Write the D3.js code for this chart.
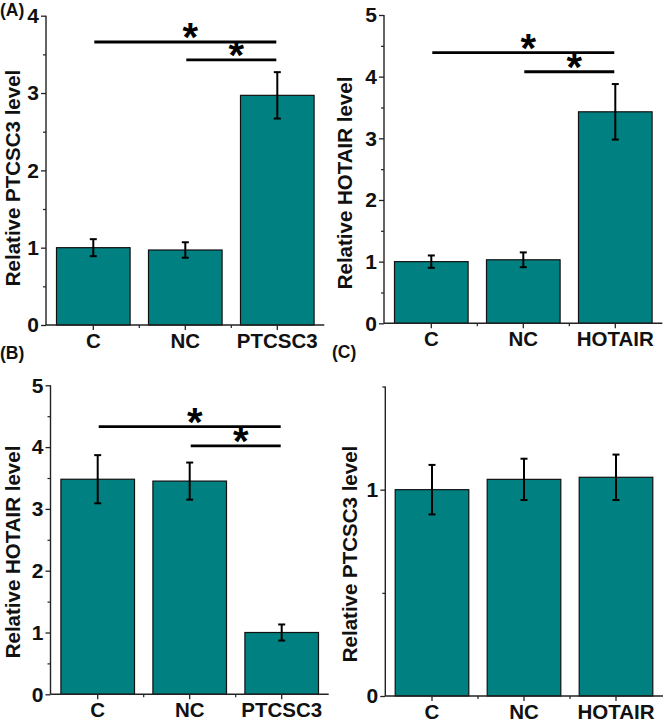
<!DOCTYPE html>
<html>
<head>
<meta charset="utf-8">
<script src="https://cdn.jsdelivr.net/npm/d3@7"></script>
<style>
  html, body { margin: 0; padding: 0; background: #fff; }
  svg { display: block; font-family: "Liberation Sans", Arial, sans-serif; font-weight: bold; }
</style>
</head>
<body>
<svg id="chart" width="664" height="722"></svg>
<script>
// ---------------- DATA ----------------
const categoriesA = ["C", "NC", "PTCSC3"];
const valuesA = [1.0, 0.97, 2.97];
const errorsA = [0.11, 0.10, 0.30];
const sigA = [[0, 2, 3.66], [1, 2, 3.43]];
const ticksA = [0, 1, 2, 3, 4];
const titleA = "Relative PTCSC3 level";

const categoriesB = ["C", "NC", "PTCSC3"];
const valuesB = [3.48, 3.45, 1.0];
const errorsB = [0.39, 0.30, 0.13];
const sigB = [[0, 2, 4.33], [1, 2, 4.02]];
const ticksB = [0, 1, 2, 3, 4, 5];
const titleB = "Relative HOTAIR level";

const categoriesC = ["C", "NC", "HOTAIR"];
const valuesC = [1.0, 1.03, 3.43];
const errorsC = [0.10, 0.12, 0.45];
const sigC = [[0, 2, 4.39], [1, 2, 4.08]];
const ticksC = [0, 1, 2, 3, 4, 5];
const titleC = "Relative HOTAIR level";

const categoriesD = ["C", "NC", "HOTAIR"];
const valuesD = [1.0, 1.05, 1.06];
const errorsD = [0.12, 0.10, 0.11];
const sigD = [];
const ticksD = [0, 1];
const titleD = "Relative PTCSC3 level";

const panelLabels = ["(A)", "(B)", "(C)"];

// ---------------- DRAW ----------------
const svg = d3.select("#chart");
const BAR = "#008080";
const FONT = "Liberation Sans, Arial, sans-serif";

function panel(cfg) {
  const g = svg.append("g");
  const y = d3.scaleLinear().domain([0, cfg.ymax]).range([cfg.y0, cfg.y1]);
  const x = d3.scaleBand().domain(cfg.cats).range([cfg.bx0, cfg.bx1])
              .paddingInner(0.2).paddingOuter(0.1);
  const step = x.step();

  // bars
  g.selectAll("rect.bar").data(cfg.vals).enter().append("rect")
    .attr("x", (d, i) => x(cfg.cats[i]))
    .attr("y", d => y(d))
    .attr("width", x.bandwidth())
    .attr("height", d => y(0) - y(d))
    .attr("fill", BAR).attr("stroke", "#111").attr("stroke-width", 1.2);

  // error bars
  const eb = g.selectAll("g.err").data(cfg.vals).enter().append("g")
    .attr("stroke", "#000").attr("stroke-width", 2);
  eb.append("line")
    .attr("x1", (d, i) => x(cfg.cats[i]) + x.bandwidth() / 2)
    .attr("x2", (d, i) => x(cfg.cats[i]) + x.bandwidth() / 2)
    .attr("y1", (d, i) => y(d + cfg.errs[i]))
    .attr("y2", (d, i) => y(d - cfg.errs[i]));
  [1, -1].forEach(s => {
    eb.append("line")
      .attr("x1", (d, i) => x(cfg.cats[i]) + x.bandwidth() / 2 - 3.5)
      .attr("x2", (d, i) => x(cfg.cats[i]) + x.bandwidth() / 2 + 3.5)
      .attr("y1", (d, i) => y(d + s * cfg.errs[i]))
      .attr("y2", (d, i) => y(d + s * cfg.errs[i]));
  });

  // y axis
  const minor = d3.range(0.5, cfg.ymax + 0.01, 1);
  const ya = g.append("g").attr("transform", `translate(${cfg.ax},0)`)
    .call(d3.axisLeft(y).tickValues(cfg.ticks).tickSize(5).tickSizeOuter(0).tickPadding(2)
      .tickFormat(d3.format("d")));
  ya.select(".domain").remove();
  ya.selectAll("text").attr("font-size", 21).attr("font-weight", "bold")
    .attr("font-family", FONT).attr("fill", "#111");
  ya.selectAll("line").attr("stroke", "#222").attr("stroke-width", 1.3);
  const ym = g.append("g").attr("transform", `translate(${cfg.ax},0)`)
    .call(d3.axisLeft(y).tickValues(minor).tickSize(3).tickFormat(""));
  ym.select(".domain").remove();
  ym.selectAll("line").attr("stroke", "#222").attr("stroke-width", 1.2);
  g.append("line").attr("x1", cfg.ax).attr("x2", cfg.ax)
    .attr("y1", y(0)).attr("y2", y(cfg.ymax))
    .attr("stroke", "#222").attr("stroke-width", 1.4);

  // x axis
  const xa = g.append("g").attr("transform", `translate(0,${y(0)})`)
    .call(d3.axisBottom(x).tickSize(5).tickSizeOuter(0).tickPadding(3));
  xa.select(".domain").remove();
  xa.selectAll("text").attr("font-size", 20.5).attr("font-weight", "bold")
    .attr("font-family", FONT).attr("fill", "#111");
  xa.selectAll("line").attr("stroke", "#222").attr("stroke-width", 1.3);
  g.selectAll("line.xm").data(cfg.cats.slice(1)).enter().append("line")
    .attr("x1", d => x(d) - step * 0.1).attr("x2", d => x(d) - step * 0.1)
    .attr("y1", y(0)).attr("y2", y(0) + 3)
    .attr("stroke", "#222").attr("stroke-width", 1.2);
  g.append("line").attr("x1", cfg.ax).attr("x2", cfg.bx1 + 1)
    .attr("y1", y(0)).attr("y2", y(0))
    .attr("stroke", "#222").attr("stroke-width", 1.4);

  // significance
  cfg.sig.forEach(s => {
    const xa1 = x(cfg.cats[s[0]]) + x.bandwidth() / 2;
    const xa2 = x(cfg.cats[s[1]]) + x.bandwidth() / 2;
    g.append("line").attr("x1", xa1 + 1).attr("x2", xa2 - 1)
      .attr("y1", y(s[2])).attr("y2", y(s[2]))
      .attr("stroke", "#000").attr("stroke-width", 2.8);
    g.append("text").attr("x", (xa1 + xa2) / 2 + 5).attr("y", y(s[2]) + 9)
      .attr("text-anchor", "middle").attr("font-size", 40).attr("font-weight", "bold")
      .attr("font-family", FONT).attr("fill", "#000").text("*");
  });

  // y title
  g.append("text")
    .attr("transform", `translate(${cfg.tx},${cfg.ty}) rotate(-90)`)
    .attr("text-anchor", "middle").attr("font-size", 20.5).attr("font-weight", "bold")
    .attr("font-family", FONT).attr("fill", "#111").text(cfg.title);
}

panel({cats: categoriesA, vals: valuesA, errs: errorsA, sig: sigA, ticks: ticksA, title: titleA,
  ymax: 4, y0: 325, y1: 15.7, ax: 46, bx0: 47.3, bx1: 323.3, tx: 20, ty: 178});
panel({cats: categoriesC, vals: valuesC, errs: errorsC, sig: sigC, ticks: ticksC, title: titleC,
  ymax: 5, y0: 323.3, y1: 15, ax: 384, bx0: 385.3, bx1: 661.3, tx: 352, ty: 183});
panel({cats: categoriesB, vals: valuesB, errs: errorsB, sig: sigB, ticks: ticksB, title: titleB,
  ymax: 5, y0: 694.3, y1: 385.3, ax: 50.5, bx0: 51.7, bx1: 327.7, tx: 20, ty: 552});
panel({cats: categoriesD, vals: valuesD, errs: errorsD, sig: sigD, ticks: ticksD, title: titleD,
  ymax: 1.5, y0: 696, y1: 386.5, ax: 385.3, bx0: 386, bx1: 662, tx: 357, ty: 554});

// panel labels
const labelPos = [[0, 16], [0, 359], [332, 358]];
svg.selectAll("text.plabel").data(panelLabels).enter().append("text")
  .attr("x", (d, i) => labelPos[i][0]).attr("y", (d, i) => labelPos[i][1])
  .attr("font-size", 17.5).attr("font-weight", "bold").attr("font-family", FONT)
  .attr("fill", "#111").text(d => d);
</script>
</body>
</html>
